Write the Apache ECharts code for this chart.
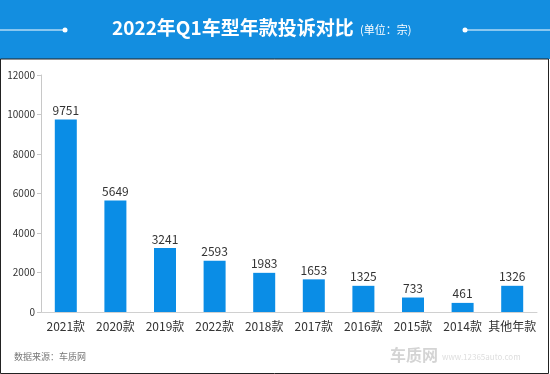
<!DOCTYPE html>
<html><head><meta charset="utf-8">
<script src="https://cdn.jsdelivr.net/npm/echarts@6/dist/echarts.min.js"></script>
<style>html,body{margin:0;padding:0;background:#fff}#c{width:550px;height:374px}</style>
</head><body><div id="c"></div>
<script>
const categories = ['2021款','2020款','2019款','2022款','2018款','2017款','2016款','2015款','2014款','其他年款'];
const values = [9751,5649,3241,2593,1983,1653,1325,733,461,1326];
const yTicks = [0,2000,4000,6000,8000,10000,12000];
const title = '2022年Q1车型年款投诉对比';
const unit = '(单位：宗)';
const source = '数据来源：车质网';

const chart = echarts.init(document.getElementById('c'), null, {renderer:'canvas'});
const font = '"Microsoft YaHei","Noto Sans CJK SC","Noto Sans",sans-serif';
chart.setOption({
  animation:false,
  backgroundColor:'#fff',
  grid:{left:41,right:13,top:75,bottom:62,containLabel:false},
  xAxis:{type:'category',data:categories,
    axisLine:{lineStyle:{color:'#d0d0d0'}},axisTick:{show:false},
    axisLabel:{color:'#333',fontSize:12,fontFamily:font,margin:8,interval:0}},
  yAxis:{type:'value',min:yTicks[0],max:yTicks[yTicks.length-1],interval:2000,
    axisLine:{show:true,lineStyle:{color:'#c8c8c8'}},
    axisTick:{show:true,length:4,lineStyle:{color:'#c8c8c8'}},
    splitLine:{show:false},
    axisLabel:{color:'#333',fontSize:10,fontFamily:font,margin:6,formatter:v=>String(v)}},
  series:[{type:'bar',data:values,barWidth:22,
    itemStyle:{color:'#0a8de6'},
    label:{show:true,position:'top',color:'#333',fontSize:12,fontFamily:font,distance:3}}],
  graphic:[
    {type:'rect',shape:{x:0,y:0,width:550,height:59},style:{fill:'#138ee0'},z:-1},
    {type:'line',shape:{x1:0,y1:30,x2:65,y2:30},style:{stroke:'#fff',lineWidth:1}},
    {type:'circle',shape:{cx:65,cy:30,r:2.5},style:{fill:'#fff'}},
    {type:'line',shape:{x1:465,y1:30,x2:550,y2:30},style:{stroke:'#fff',lineWidth:1}},
    {type:'circle',shape:{cx:465,cy:30,r:2.5},style:{fill:'#fff'}},
    {type:'text',left:112,top:18,style:{text:title,fill:'#fff',font:'bold 19px '+font}},
    {type:'text',left:360,top:24,style:{text:unit,fill:'#fff',font:'11px '+font}},
    {type:'text',left:14,top:352,style:{text:source,fill:'#777',font:'9px '+font}},
    {type:'text',left:390,top:347,style:{text:'车质网',fill:'#d4d4d4',font:'bold 16px '+font}},
    {type:'text',left:442,top:353,style:{text:'www.12365auto.com',fill:'#ddd',font:'8px '+font}},
    {type:'rect',shape:{x:0.5,y:59,width:548,height:314.5},style:{fill:'none',stroke:'#222',lineWidth:1}}
  ]
});
</script></body></html>
